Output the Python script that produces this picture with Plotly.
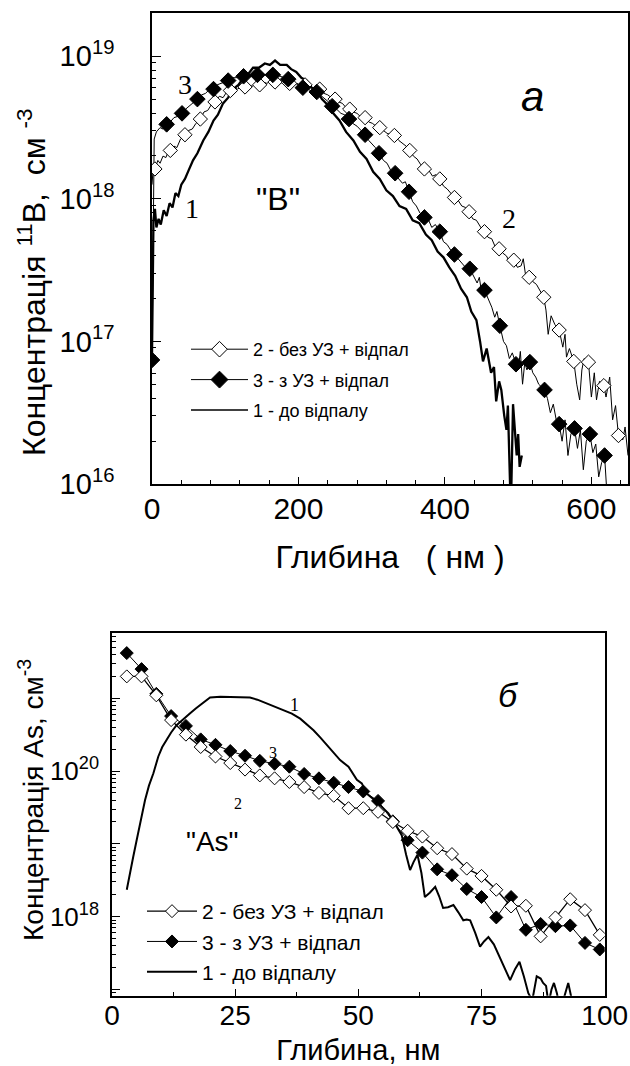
import numpy as np
import plotly.graph_objects as go

# ---------------- panel "а": 11B profile, depth (nm) vs log10(conc, cm^-3) ----------------
# curve 1 - before anneal (thick)
b1_x = [0, 1, 2, 4, 6, 9, 12, 16, 20, 24, 28, 32, 36, 40, 45, 50, 56, 62, 70, 77, 84, 90, 97,
        104, 111, 118, 125, 132, 138, 146, 154, 161, 168, 175, 184, 190, 197, 204, 211, 218,
        225, 232, 238, 246, 256, 265, 275, 284, 293, 302, 311, 320, 329, 338, 347, 356, 365,
        374, 382, 390, 398, 406, 414, 422, 430, 436, 443, 448, 452, 457, 463, 467, 470, 474,
        477, 481, 484, 486, 488, 490, 493, 496, 498, 500, 502, 505]
b1_lg = [16.9, 17.5, 17.85, 17.93, 17.80, 17.86, 17.82, 17.92, 17.88, 17.97, 17.94, 18.04,
         18.02, 18.10, 18.14, 18.20, 18.27, 18.32, 18.41, 18.47, 18.55, 18.59, 18.67, 18.71,
         18.77, 18.80, 18.85, 18.88, 18.92, 18.92, 18.95, 18.94, 18.97, 18.94, 18.94, 18.91,
         18.89, 18.85, 18.83, 18.78, 18.76, 18.70, 18.67, 18.61, 18.55, 18.47, 18.41, 18.33,
         18.28, 18.19, 18.14, 18.06, 18.02, 17.95, 17.93, 17.85, 17.83, 17.75, 17.71, 17.63,
         17.59, 17.52, 17.46, 17.37, 17.31, 17.21, 17.15, 17.00, 16.86, 16.95, 16.78, 16.82,
         16.58, 16.72, 16.66, 16.48, 16.38, 16.55, 16.00, 15.80, 16.56, 16.30, 16.20, 16.35,
         16.12, 16.20]

# curve 2 - without ultrasound + anneal (thin line, open diamonds)
b2_x = [0, 2, 4, 8, 11, 15, 19, 22, 25, 30, 34, 39, 45, 50, 55, 60, 66, 71, 76, 81, 86, 92,
        97, 102, 107, 112, 117, 122, 127, 132, 137, 142, 147, 152, 157, 162, 168, 173, 178,
        183, 188, 193, 198, 204, 209, 214, 219, 224, 229, 235, 240, 245, 250, 255, 260, 265,
        270, 275, 280, 286, 291, 296, 301, 306, 311, 316, 321, 326, 331, 337, 342, 347, 352,
        357, 362, 367, 372, 378, 383, 388, 393, 398, 403, 408, 413, 418, 423, 428, 433, 438,
        443, 449, 454, 459, 464, 469, 474, 479, 484, 489, 494, 499, 504, 507, 510, 515, 520,
        525, 530, 535, 538, 541, 545, 550, 556, 561, 564, 566, 570, 576, 580, 584, 587, 590,
        596, 600, 604, 607, 611, 617, 620, 625, 629, 633, 637, 643, 646, 650]
b2_lg = [18.10, 18.24, 18.21, 18.27, 18.25, 18.30, 18.29, 18.33, 18.34, 18.37, 18.36, 18.42,
         18.45, 18.48, 18.49, 18.53, 18.56, 18.61, 18.62, 18.66, 18.68, 18.72, 18.71, 18.75,
         18.76, 18.78, 18.77, 18.79, 18.785, 18.80, 18.79, 18.81, 18.80, 18.82, 18.81, 18.83,
         18.82, 18.83, 18.81, 18.82, 18.81, 18.80, 18.81, 18.79, 18.80, 18.78, 18.78, 18.76,
         18.77, 18.74, 18.73, 18.71, 18.70, 18.68, 18.67, 18.64, 18.63, 18.61, 18.60, 18.57,
         18.57, 18.54, 18.53, 18.51, 18.50, 18.48, 18.46, 18.45, 18.445, 18.41, 18.39, 18.37,
         18.34, 18.30, 18.28, 18.24, 18.21, 18.20, 18.16, 18.17, 18.14, 18.09, 18.07, 18.04,
         18.01, 17.99, 17.95, 17.94, 17.91, 17.86, 17.85, 17.80, 17.77, 17.73, 17.72, 17.66,
         17.65, 17.62, 17.60, 17.55, 17.57, 17.52, 17.53, 17.58, 17.47, 17.45, 17.42, 17.40,
         17.35, 17.31, 17.22, 17.05, 17.18, 17.12, 17.08, 16.96, 17.05, 16.89, 16.95, 16.86,
         16.70, 16.59, 16.80, 16.88, 16.855, 16.61, 16.78, 16.59, 16.72, 16.69, 16.61, 16.75,
         16.45, 16.55, 16.34, 16.31, 16.40, 16.20]
b2m_x = [4, 25, 45, 66, 86, 107, 127, 147, 168, 188, 209, 229, 250, 270, 291, 311, 331, 352,
         372, 393, 413, 433, 454, 474, 494, 515, 535, 556, 576, 596, 617, 637]
b2m_lg = [18.21, 18.34, 18.45, 18.56, 18.68, 18.76, 18.785, 18.80, 18.82, 18.81, 18.80, 18.77,
          18.70, 18.63, 18.57, 18.50, 18.445, 18.34, 18.21, 18.14, 18.01, 17.91, 17.77, 17.65,
          17.57, 17.45, 17.31, 17.08, 16.86, 16.855, 16.69, 16.34]

# curve 3 - with ultrasound + anneal (thin line, filled diamonds)
b3_x = [0, 1, 2, 3, 6, 11, 15, 20, 25, 30, 36, 41, 46, 51, 57, 62, 68, 73, 79, 84, 89, 94, 99,
        104, 109, 115, 120, 125, 130, 135, 140, 144, 150, 155, 160, 165, 170, 176, 181, 186,
        191, 196, 201, 206, 211, 216, 220, 225, 230, 236, 241, 246, 252, 258, 263, 269, 274,
        280, 285, 291, 296, 300, 305, 310, 316, 321, 326, 332, 337, 342, 346, 351, 356, 361,
        366, 372, 377, 382, 387, 393, 398, 403, 408, 413, 418, 423, 428, 434, 439, 444, 447,
        449, 454, 459, 464, 468, 471, 475, 480, 484, 488, 492, 497, 500, 503, 506, 509, 512,
        516, 520, 524, 528, 532, 536, 540, 544, 548, 552, 556, 560, 564, 568, 572, 577, 581,
        585, 589, 593, 598, 602, 606, 610, 614, 618, 621, 624]
b3_lg = [16.87, 17.6, 18.2, 18.42, 18.47, 18.50, 18.49, 18.523, 18.54, 18.57, 18.58, 18.60,
         18.63, 18.65, 18.68, 18.70, 18.73, 18.74, 18.77, 18.77, 18.80, 18.81, 18.82, 18.83,
         18.85, 18.85, 18.86, 18.86, 18.87, 18.86, 18.88, 18.87, 18.88, 18.87, 18.88, 18.87,
         18.87, 18.86, 18.85, 18.84, 18.83, 18.81, 18.80, 18.78, 18.78, 18.76, 18.76, 18.75,
         18.73, 18.70, 18.68, 18.65, 18.63, 18.60, 18.59, 18.56, 18.53, 18.51, 18.48, 18.45,
         18.41, 18.39, 18.36, 18.32, 18.27, 18.25, 18.20, 18.18, 18.14, 18.11, 18.12, 18.05,
         17.98, 17.95, 17.90, 17.87, 17.86, 17.80, 17.82, 17.77, 17.70, 17.68, 17.64, 17.61,
         17.58, 17.55, 17.52, 17.51, 17.46, 17.41, 17.45, 17.38, 17.36, 17.30, 17.24, 17.17,
         17.21, 17.11, 17.00, 16.97, 16.88, 16.92, 16.84, 16.80, 16.93, 16.70, 16.85, 16.80,
         16.855, 16.78, 16.75, 16.70, 16.68, 16.66, 16.60, 16.50, 16.56, 16.45, 16.42, 16.30,
         16.45, 16.20, 16.35, 16.39, 16.25, 16.38, 16.10, 16.30, 16.35, 16.22, 16.28, 16.05,
         16.15, 16.20, 15.95, 15.80]
b3m_x = [0, 20, 41, 62, 84, 104, 125, 144, 165, 186, 206, 225, 246, 269, 291, 310, 332, 351,
         372, 393, 413, 434, 454, 475, 497, 516, 536, 556, 577, 598, 618]
b3m_lg = [16.87, 18.523, 18.60, 18.70, 18.77, 18.83, 18.86, 18.87, 18.87, 18.84, 18.78, 18.75,
          18.65, 18.56, 18.45, 18.32, 18.18, 18.05, 17.87, 17.77, 17.61, 17.51, 17.36, 17.11,
          16.84, 16.855, 16.66, 16.42, 16.39, 16.35, 16.20]

# ---------------- panel "б": As profile ----------------
a1_x = [3.0, 3.6, 4.3, 5.0, 5.7, 6.7, 7.5, 8.4, 9.4, 10.2, 11.1, 12.0, 13.1, 14.5, 15.8, 17.0,
        17.9, 19.0, 19.9, 22, 24, 26, 28, 29.5, 31.4, 33, 34.8, 36.5, 38.2, 39.6, 40.9, 42.3,
        43.6, 45, 46.3, 48.0, 49.7, 50.7, 51.7, 53.7, 56.1, 57.4, 58.8, 59.7, 60.5, 61.2, 62.0,
        62.8, 63.5, 64.5, 65.6, 66.4, 67.2, 68.2, 69.3, 70.3, 71.3, 72.0, 72.7, 73.7, 74.7,
        75.5, 76.4, 77.5, 78.7, 79.8, 80.8, 81.8, 82.7, 83.6, 84.5, 85.3, 86.2, 87.0, 87.5,
        88.1, 88.6, 89.2, 89.7, 90.3, 91.0, 92.0, 92.6, 93.2, 94]
a1_lg = [18.37, 18.6, 18.82, 19.05, 19.28, 19.60, 19.80, 19.97, 20.20, 20.33, 20.43, 20.53,
         20.63, 20.72, 20.79, 20.86, 20.91, 20.97, 21.01, 21.02, 21.02, 21.02, 21.01, 20.98,
         20.93, 20.89, 20.84, 20.79, 20.72, 20.64, 20.56, 20.46, 20.36, 20.25, 20.15, 20.06,
         19.88, 19.83, 19.69, 19.58, 19.42, 19.28, 19.12, 18.85, 18.64, 18.75, 18.85, 18.6,
         18.27, 18.33, 18.41, 18.28, 18.12, 18.13, 18.16, 18.06, 17.95, 17.96, 17.95, 17.78,
         17.59, 17.66, 17.72, 17.62, 17.45, 17.28, 17.13, 17.28, 17.38, 17.18, 16.95, 16.85,
         17.18, 17.15, 17.09, 17.05, 16.8, 17.0, 17.09, 16.95, 16.7, 16.95, 17.09, 16.9, 16.7]

a_depth = [3, 6, 9, 12, 15, 18, 21, 24, 27, 30, 33, 36, 39, 42, 45, 48, 51, 54, 57, 60, 63, 66,
           69, 72, 75, 78, 81, 84, 87, 90, 93, 96, 99]
a2_lg = [21.30, 21.30, 21.04, 20.70, 20.50, 20.33, 20.20, 20.11, 20.02, 19.94, 19.90, 19.85,
         19.78, 19.70, 19.66, 19.49, 19.49, 19.44, 19.30, 19.18, 19.10, 18.94, 18.86, 18.66,
         18.56, 18.37, 18.14, 18.15, 17.73, 17.99, 18.24, 18.09, 17.75]
a3_lg = [21.62, 21.40, 21.06, 20.755, 20.62, 20.435, 20.36, 20.275, 20.21, 20.14, 20.10, 20.06,
         19.96, 19.90, 19.84, 19.78, 19.72, 19.59, 19.31, 19.05, 18.88, 18.65, 18.57, 18.38,
         18.27, 17.99, 18.27, 17.82, 17.90, 17.87, 17.88, 17.64, 17.55]

names = ["2 - без УЗ + відпал", "3 - з УЗ + відпал", "1 - до відпалу"]


def conc(lg):
    return 10 ** np.array(lg)


FONT = "Liberation Sans, Arial, sans-serif"
SERIF = "Liberation Serif, Times New Roman, serif"
NB = "\u00a0"
open_mk = dict(symbol="diamond", color="white", line=dict(color="black", width=1))
fill_mk = dict(symbol="diamond", color="black", line=dict(color="black", width=1))

fig = go.Figure()

# ---- top panel traces ----
fig.add_trace(go.Scatter(x=b2_x, y=conc(b2_lg), mode="lines", line=dict(color="black", width=1),
                         showlegend=False, xaxis="x", yaxis="y"))
fig.add_trace(go.Scatter(x=b3_x, y=conc(b3_lg), mode="lines", line=dict(color="black", width=1),
                         showlegend=False, xaxis="x", yaxis="y"))
fig.add_trace(go.Scatter(x=b1_x, y=conc(b1_lg), mode="lines", line=dict(color="black", width=2.3),
                         showlegend=False, xaxis="x", yaxis="y"))
fig.add_trace(go.Scatter(x=b2m_x, y=conc(b2m_lg), mode="markers", marker=dict(size=11, **open_mk),
                         showlegend=False, xaxis="x", yaxis="y"))
fig.add_trace(go.Scatter(x=b3m_x, y=conc(b3m_lg), mode="markers", marker=dict(size=12, **fill_mk),
                         showlegend=False, xaxis="x", yaxis="y"))
# legend entries (top)
fig.add_trace(go.Scatter(x=[None], y=[None], mode="lines+markers", name=names[0], legend="legend",
                         legendgroup="t2", line=dict(color="black", width=1),
                         marker=dict(size=12, **open_mk), xaxis="x", yaxis="y"))
fig.add_trace(go.Scatter(x=[None], y=[None], mode="lines+markers", name=names[1], legend="legend",
                         legendgroup="t3", line=dict(color="black", width=1),
                         marker=dict(size=13, **fill_mk), xaxis="x", yaxis="y"))
fig.add_trace(go.Scatter(x=[None], y=[None], mode="lines", name=names[2], legend="legend",
                         legendgroup="t1", line=dict(color="black", width=1.5), xaxis="x", yaxis="y"))

# ---- bottom panel traces ----
fig.add_trace(go.Scatter(x=a1_x, y=conc(a1_lg), mode="lines", name=names[2], legend="legend2",
                         line=dict(color="black", width=2), xaxis="x2", yaxis="y2", legendrank=3))
fig.add_trace(go.Scatter(x=a_depth, y=conc(a3_lg), mode="lines+markers", name=names[1],
                         legend="legend2", line=dict(color="black", width=1),
                         marker=dict(size=10, **fill_mk), xaxis="x2", yaxis="y2", legendrank=2))
fig.add_trace(go.Scatter(x=a_depth, y=conc(a2_lg), mode="lines+markers", name=names[0],
                         legend="legend2", line=dict(color="black", width=1.3),
                         marker=dict(size=10, **open_mk), xaxis="x2", yaxis="y2", legendrank=1))

W, H = 630, 1066
top_dec = list(range(16, 20))
bot_lab = [18, 20]
bot_unl = [17, 19, 21]
minor_top = [m * 10.0 ** d for d in range(16, 19) for m in range(2, 10)]
minor_bot = [m * 10.0 ** d for d in range(16, 22) for m in range(2, 10)]

axis_common = dict(showline=True, linecolor="black", linewidth=1.5, mirror=True, ticks="inside",
                   tickcolor="black", showgrid=False, zeroline=False, automargin=False)

dom_y2 = [1 - 995.7 / H, 1 - 632.7 / H]

fig.update_layout(
    template="none",
    width=W, height=H, margin=dict(l=0, r=0, t=0, b=0),
    paper_bgcolor="white", plot_bgcolor="white",
    font=dict(family=FONT, color="black"),
    xaxis=dict(domain=[152 / W, 628 / W], range=[0, 650], tickvals=[0, 200, 400, 600],
               ticklen=7, tickwidth=1.2, ticklabelstandoff=-3,
               tickfont=dict(family=FONT, size=30, color="black"),
               minor=dict(ticks="inside", ticklen=4, tickcolor="black", dtick=40, tick0=0),
               title=dict(text="Глибина" + NB * 3 + "( нм )", font=dict(size=32), standoff=22),
               anchor="y", **axis_common),
    yaxis=dict(domain=[1 - 484 / H, 1 - 13 / H], type="log", range=[16, 19.304],
               tickmode="array", tickvals=[10.0 ** d for d in top_dec],
               ticktext=["10<sup>%d</sup>" % d for d in top_dec], ticklen=9, tickwidth=1.2,
               ticklabelstandoff=30, tickfont=dict(family=FONT, size=29, color="black"),
               minor=dict(ticks="inside", ticklen=4, tickcolor="black", tickmode="array",
                          tickvals=minor_top),
               anchor="x", **axis_common),
    xaxis2=dict(domain=[112 / W, 604.7 / W], range=[0, 100], tickvals=[0, 25, 50, 75, 100],
                ticklen=7, tickwidth=1.2, ticklabelstandoff=-6,
                tickfont=dict(family=FONT, size=28, color="black"),
                minor=dict(ticks="inside", ticklen=4, tickcolor="black", dtick=12.5, tick0=0),
                title=dict(text="Глибина, нм", font=dict(size=29), standoff=16),
                anchor="y2", **axis_common),
    yaxis2=dict(domain=dom_y2, type="log", range=[16.915, 21.9],
                tickmode="array", tickvals=[10.0 ** d for d in bot_lab],
                ticktext=["10<sup>%d</sup>" % d for d in bot_lab], ticklen=8, tickwidth=1.2,
                ticklabelstandoff=6, tickfont=dict(family=FONT, size=26, color="black"),
                minor=dict(ticks="inside", ticklen=4, tickcolor="black", tickmode="array",
                           tickvals=minor_bot),
                anchor="x2", **axis_common),
    # unlabeled decade ticks of the lower panel
    yaxis3=dict(domain=dom_y2, type="log", range=[16.915, 21.9], overlaying="y2", anchor="x2",
                side="left", tickmode="array", tickvals=[10.0 ** d for d in bot_unl],
                showticklabels=False, ticks="inside", ticklen=8, tickwidth=1.2, tickcolor="black",
                showline=False, showgrid=False, zeroline=False, automargin=False),
    legend=dict(x=186 / W, y=1 - 331 / H, xanchor="left", yanchor="top", bgcolor="rgba(0,0,0,0)",
                font=dict(family=FONT, size=18), tracegroupgap=4, itemwidth=57,
                traceorder="grouped"),
    legend2=dict(x=142 / W, y=1 - 891 / H, xanchor="left", yanchor="top", bgcolor="rgba(0,0,0,0)",
                 font=dict(family=FONT, size=21), tracegroupgap=0, itemwidth=50,
                 traceorder="normal"),
)
# empty trace so the helper axis is drawn
fig.add_trace(go.Scatter(x=[None], y=[None], xaxis="x2", yaxis="y3", showlegend=False))

# vertical axis titles, placed as rotated paper-space labels
fig.add_annotation(xref="paper", yref="paper", x=32 / W, y=1 - 282 / H, textangle=-90,
                   xanchor="center", yanchor="middle", showarrow=False,
                   text="Концентрація <sup>11</sup>B," + NB * 2 + "см <sup>-3</sup>",
                   font=dict(family=FONT, size=32, color="black"))
fig.add_annotation(xref="paper", yref="paper", x=31 / W, y=1 - 800 / H, textangle=-90,
                   xanchor="center", yanchor="middle", showarrow=False,
                   text="Концентрація As, см<sup>-3</sup>",
                   font=dict(family=FONT, size=28, color="black"))

ann = [
    ("x", "y", 45, 18.80, "3", SERIF, 28, False),
    ("x", "y", 55, 17.93, "1", SERIF, 28, False),
    ("x", "y", 172, 18.00, "\"B\"", FONT, 32, False),
    ("x", "y", 488, 17.86, "2", SERIF, 28, False),
    ("x", "y", 520, 18.72, "а", FONT, 42, True),
    ("x2", "y2", 37.1, 20.91, "1", SERIF, 18, False),
    ("x2", "y2", 32.7, 20.26, "3", SERIF, 16, False),
    ("x2", "y2", 25.6, 19.56, "2", SERIF, 16, False),
    ("x2", "y2", 20.3, 19.03, "\"As\"", FONT, 28, False),
    ("x2", "y2", 80.4, 21.04, "б", FONT, 34, True),
]
for xr, yr, ax, ay, txt, fam, sz, it in ann:
    fig.add_annotation(xref=xr, yref=yr, x=ax, y=ay, text="<i>%s</i>" % txt if it else txt,
                       showarrow=False, font=dict(family=fam, size=sz, color="black"))

# page body has a default 8px margin; drop it so the figure sits at the window origin
fig.write_html("out.html", config={"displayModeBar": False},
               post_script="document.body.style.margin='0px';")
